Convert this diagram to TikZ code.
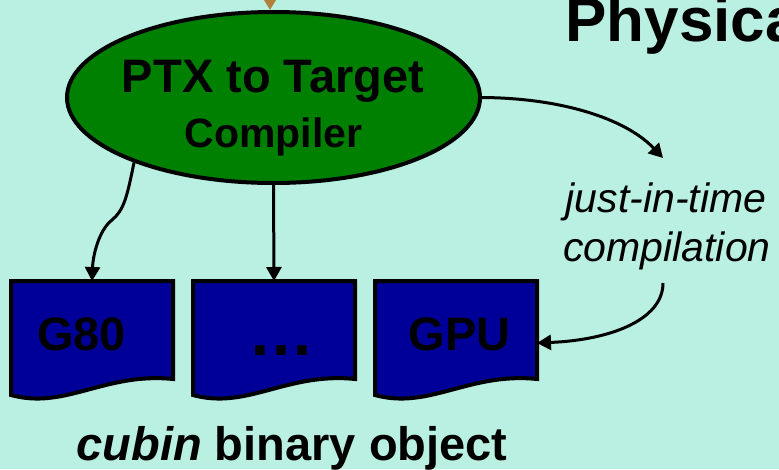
\documentclass[tikz,border=0pt]{standalone}
\usepackage{fontspec}
\setmainfont{Liberation Sans}
\usetikzlibrary{shapes.geometric,arrows.meta}
\definecolor{bgmint}{RGB}{185,240,226}
\definecolor{ellgreen}{RGB}{0,128,0}
\definecolor{docblue}{RGB}{0,0,153}
\definecolor{arrbrown}{RGB}{178,128,56}
\newcommand{\fsz}[1]{\fontsize{#1}{#1}\selectfont}
\tikzset{
  conn/.style={line width=3pt, draw=black, -{Triangle[length=14pt,width=15pt]}},
  docholder/.style={rectangle, minimum width=162pt, minimum height=124pt, inner sep=0pt, outer sep=0pt},
  docshape/.style={line width=4pt, draw=black, fill=docblue, line join=miter},
  txt/.style={inner sep=0pt, outer sep=0pt, anchor=base},
}
\begin{document}
\begin{tikzpicture}[x=1pt,y=-1pt]
\useasboundingbox (0,0) rectangle (779,469);
\clip (0,0) rectangle (779,469);
\fill[bgmint] (0,0) rectangle (779,469);

% top title (cut off by the picture edge)
\node[txt, anchor=base west] (title) at (565.3,41) {\fsz{62}\bfseries Physica};

% compiler ellipse
\node[ellipse, draw=black, line width=4pt, fill=ellgreen, minimum width=413pt, minimum height=171pt, inner sep=0pt] (ptx) at (273.5,97.5) {};
\coordinate (topin) at (270,-40);
\draw[line width=3pt, draw=arrbrown, -{Triangle[length=14pt,width=16pt]}, arrbrown] (topin) -- ([xshift=-3.5pt]ptx.north);
\node[txt] (ptxA) at (273,92) {\fsz{47}\bfseries PTX to Target};
\node[txt] (ptxB) at (273.5,147) {\fsz{41}\bfseries Compiler};

% documents
\node[docholder] (d1) at (92,343) {};
\node[docholder] (d2) at (274,343) {};
\node[docholder] (d3) at (456,343) {};
\foreach \n in {d1,d2,d3}{
  \draw[docshape, shift={(\n.north west)}] (0,0) -- (162,0) -- (162,98)
    .. controls (94,91) and (54,129) .. (0,114) -- cycle;
}
\node[txt] (l1) at (81.5,350) {\fsz{47}\bfseries G80};
\node[txt] (l2) at (281.5,355) {\fsz{66}\bfseries …};
\node[txt] (l3) at (459.5,350) {\fsz{47}\bfseries GPU};

% caption
\node[txt] (cap) at (292,460) {\fsz{47}\bfseries\itshape cubin\upshape{} binary object};

% just-in-time label
\node[txt] (jitA) at (666,212) {\fsz{41}\itshape just-in-time};
\node[txt] (jitB) at (667,261) {\fsz{41}\itshape compilation};
\coordinate (jitin) at (663,158);
\coordinate (jitout) at (663,283);

% connectors
\draw[conn] (ptx.205) .. controls (127,197) and (124,210) .. (112,220)
  .. controls (99,230) and (93,255) .. (d1.north);
\draw[conn] (ptx.south) -- (d2.north);
\draw[conn] (ptx.east) .. controls (560,98) and (625,118) .. (jitin);
\draw[conn] (jitout) .. controls (663,320) and (610,340) .. (d3.east);
\end{tikzpicture}
\end{document}
